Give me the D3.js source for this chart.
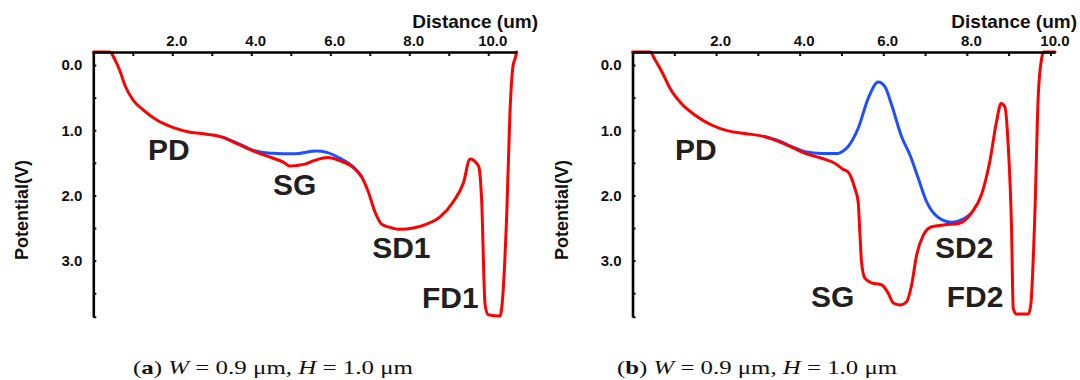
<!DOCTYPE html>
<html>
<head>
<meta charset="utf-8">
<script src="https://cdn.jsdelivr.net/npm/d3@7"></script>
<style>
  html, body { margin: 0; padding: 0; background: #ffffff; }
  svg { display: block; }
</style>
</head>
<body>
<script>
// ---------- DATA ----------
// Panel (a): distance (um) and potential (V)
const aRedX  = [0, 0.42, 0.55, 0.68, 0.80, 1.01, 1.27, 1.60, 2.03, 2.45, 2.87, 3.29, 3.54, 3.80, 4.14, 4.56, 4.81, 4.98, 5.15, 5.36, 5.57, 5.95, 6.25, 6.58, 6.79, 6.96, 7.13, 7.30, 7.51, 7.76, 8.10, 8.44, 8.78, 9.11, 9.37, 9.54, 9.71, 9.76, 9.83, 9.92, 10.00, 10.30, 10.34, 10.47, 10.55, 10.63, 10.68, 10.72];
const aRedY  = [-0.2, -0.2, -0.08, 0.10, 0.31, 0.54, 0.69, 0.84, 0.96, 1.03, 1.06, 1.11, 1.18, 1.25, 1.34, 1.43, 1.49, 1.55, 1.54, 1.52, 1.47, 1.42, 1.47, 1.57, 1.71, 1.94, 2.25, 2.44, 2.49, 2.52, 2.50, 2.44, 2.33, 2.10, 1.81, 1.44, 1.51, 1.56, 2.04, 3.68, 3.83, 3.85, 3.73, 2.25, 0.72, 0.00, -0.10, -0.2];
const aBlueX = [3.29, 3.54, 3.80, 3.97, 4.30, 4.64, 4.98, 5.23, 5.36, 5.66, 5.91, 6.25, 6.58, 6.79];
const aBlueY = [1.11, 1.17, 1.24, 1.29, 1.34, 1.355, 1.36, 1.355, 1.34, 1.32, 1.34, 1.43, 1.56, 1.71];

// Panel (b)
const bRedX  = [0, 0.42, 0.54, 0.70, 0.90, 1.17, 1.50, 1.89, 2.29, 2.69, 3.17, 3.49, 3.81, 4.13, 4.53, 4.85, 5.04, 5.16, 5.32, 5.40, 5.44, 5.48, 5.56, 5.72, 5.96, 6.12, 6.24, 6.40, 6.56, 6.68, 6.80, 6.96, 7.16, 7.48, 7.80, 8.11, 8.35, 8.55, 8.71, 8.82, 8.91, 8.99, 9.07, 9.11, 9.19, 9.47, 9.53, 9.63, 9.71, 9.79, 9.83, 10.11];
const bRedY  = [-0.2, -0.2, -0.08, 0.10, 0.36, 0.59, 0.77, 0.92, 1.01, 1.05, 1.10, 1.17, 1.26, 1.355, 1.43, 1.51, 1.60, 1.64, 1.89, 2.10, 2.56, 3.02, 3.27, 3.34, 3.37, 3.50, 3.65, 3.68, 3.63, 3.37, 2.91, 2.61, 2.48, 2.45, 2.43, 2.27, 1.99, 1.48, 0.87, 0.59, 0.64, 1.23, 2.50, 3.73, 3.82, 3.82, 3.68, 2.25, 0.46, -0.10, -0.2, -0.2];
const bBlueX = [3.17, 3.49, 3.81, 4.13, 4.53, 4.92, 5.04, 5.16, 5.40, 5.64, 5.88, 6.04, 6.20, 6.44, 6.64, 6.84, 7.04, 7.32, 7.63, 7.95, 8.11];
const bBlueY = [1.10, 1.16, 1.25, 1.33, 1.355, 1.355, 1.32, 1.25, 0.97, 0.51, 0.26, 0.33, 0.61, 1.10, 1.38, 1.74, 2.10, 2.34, 2.41, 2.35, 2.27];

// Ticks
const xTickValues = [1, 2, 3, 4, 5, 6, 7, 8, 9, 10];
const yTickValues = [0, 0.5, 1, 1.5, 2, 2.5, 3, 3.5];

// Region labels [text, distance, potential(baseline)]
const aLabels = [["PD", 1.385, 1.457], ["SG", 4.55, 1.994], ["SD1", 7.06, 2.96], ["FD1", 8.32, 3.727]];
const bLabels = [["PD", 1.017, 1.457], ["SG", 4.27, 3.71], ["SD2", 7.24, 2.96], ["FD2", 7.52, 3.71]];

const xTitle = "Distance (um)";
const yTitle = "Potential(V)";
const captions = [["a", "0.9", "1.0"], ["b", "0.9", "1.0"]];

// ---------- LAYOUT ----------
const W = 1080, H = 380;
const yDomain = [-0.2, 3.86];
const plotTop = 52, plotBottom = 316.7;
const panels = [
  { left: 93.3, right: 516.7, xMax: 10.72, red: [aRedX, aRedY], blue: [aBlueX, aBlueY], labels: aLabels, cap: captions[0], capX: 133, titleRight: 538 },
  { left: 632.5, right: 1055, xMax: 10.11, red: [bRedX, bRedY], blue: [bBlueX, bBlueY], labels: bLabels, cap: captions[1], capX: 617, titleRight: 1077 }
];

const sans = "'Liberation Sans', Arial, Helvetica, sans-serif";
const serif = "'Liberation Serif', 'Times New Roman', serif";

const svg = d3.select("body").append("svg").attr("width", W).attr("height", H);

const zip = (xs, ys) => xs.map((v, i) => [v, ys[i]]);

panels.forEach(p => {
  const x = d3.scaleLinear().domain([0, p.xMax]).range([p.left, p.right]);
  const y = d3.scaleLinear().domain(yDomain).range([plotTop, plotBottom]);
  const g = svg.append("g");

  // curves
  const line = d3.line().x(d => x(d[0])).y(d => y(d[1])).curve(d3.curveMonotoneX);
  g.append("path").datum(zip(p.blue[0], p.blue[1]))
    .attr("d", line).attr("fill", "none").attr("stroke", "#1f4fff")
    .attr("stroke-width", 3).attr("stroke-linejoin", "round").attr("stroke-linecap", "round");
  g.append("path").datum(zip(p.red[0], p.red[1]))
    .attr("d", line).attr("fill", "none").attr("stroke", "#ff0000")
    .attr("stroke-width", 3).attr("stroke-linejoin", "round").attr("stroke-linecap", "round");

  // top axis
  const xAxis = d3.axisTop(x).tickValues(xTickValues).tickSizeInner(-4).tickSizeOuter(0).tickPadding(6)
    .tickFormat(d => d % 2 === 0 ? d3.format(".1f")(d) : "");
  const gx = g.append("g").attr("transform", `translate(0,${plotTop})`).call(xAxis);
  gx.select(".domain").attr("stroke", "#000").attr("stroke-width", 2.6);
  gx.selectAll(".tick line").attr("stroke", "#000").attr("stroke-width", 2);
  gx.selectAll(".tick text").attr("font-family", sans).attr("font-weight", "bold")
    .attr("font-size", 15).attr("fill", "#111").attr("dx", 4);

  // left axis
  const yAxis = d3.axisLeft(y).tickValues(yTickValues.concat([yDomain[1]])).tickSizeInner(-3).tickSizeOuter(0).tickPadding(11)
    .tickFormat(d => Number.isInteger(d) ? d3.format(".1f")(d) : "");
  const gy = g.append("g").attr("transform", `translate(${p.left},0)`).call(yAxis);
  gy.select(".domain").attr("stroke", "#000").attr("stroke-width", 2.6);
  gy.selectAll(".tick line").attr("stroke", "#000").attr("stroke-width", 2);
  gy.selectAll(".tick text").attr("font-family", sans).attr("font-weight", "bold")
    .attr("font-size", 15).attr("fill", "#111");

  // axis titles
  g.append("text").attr("x", p.titleRight).attr("y", 28).attr("text-anchor", "end")
    .attr("font-family", sans).attr("font-weight", "bold").attr("font-size", 19).attr("fill", "#111")
    .text(xTitle);
  g.append("text").attr("transform", `translate(${p.left - 71},210) rotate(-90)`)
    .attr("text-anchor", "middle").attr("dominant-baseline", "central")
    .attr("font-family", sans).attr("font-weight", "bold").attr("font-size", 18).attr("fill", "#111")
    .text(yTitle);

  // region labels
  g.selectAll("text.region").data(p.labels).enter().append("text").attr("class", "region")
    .attr("x", d => x(d[1])).attr("y", d => y(d[2]))
    .attr("font-family", sans).attr("font-weight", "bold").attr("font-size", 30).attr("fill", "#231f20")
    .text(d => d[0]);

  // caption
  const cap = g.append("text").attr("x", p.capX).attr("y", 374)
    .attr("font-family", serif).attr("font-size", 19).attr("fill", "#111")
    .attr("textLength", 280).attr("lengthAdjust", "spacingAndGlyphs");
  cap.append("tspan").text("(");
  cap.append("tspan").attr("font-weight", "bold").text(p.cap[0]);
  cap.append("tspan").text(") ");
  cap.append("tspan").attr("font-style", "italic").text("W");
  cap.append("tspan").text(" = " + p.cap[1] + " \u03bcm, ");
  cap.append("tspan").attr("font-style", "italic").text("H");
  cap.append("tspan").text(" = " + p.cap[2] + " \u03bcm");
});
</script>
</body>
</html>
